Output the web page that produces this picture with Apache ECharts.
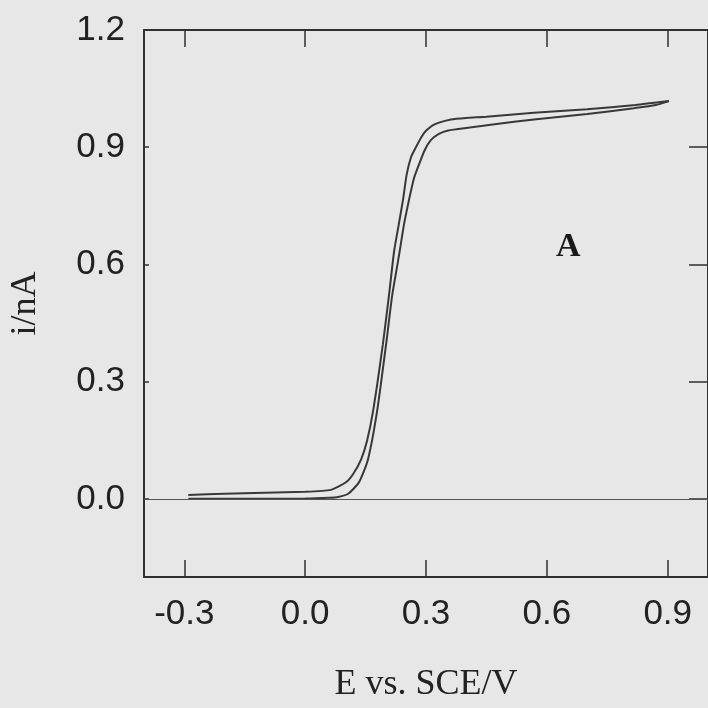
<!DOCTYPE html>
<html>
<head>
<meta charset="utf-8">
<script src="https://cdn.jsdelivr.net/npm/echarts@6/dist/echarts.min.js"></script>
<style>
  html, body { margin: 0; padding: 0; background: #e7e7e7; }
  #main { width: 708px; height: 708px; }
</style>
</head>
<body>
<div id="main"></div>
<script>
// forward scan (lower branch), E in V, i in nA
var forwardE = [-0.29, -0.2, 0.0, 0.06, 0.082, 0.107, 0.134, 0.156, 0.179, 0.201, 0.216, 0.233, 0.245, 0.258, 0.27, 0.283, 0.297, 0.312, 0.332, 0.355, 0.404, 0.48, 0.568, 0.7, 0.816, 0.87, 0.903];
var forwardI = [0.0, 0.0, 0.001, 0.003, 0.005, 0.013, 0.043, 0.101, 0.227, 0.396, 0.52, 0.623, 0.7, 0.766, 0.82, 0.857, 0.893, 0.918, 0.934, 0.943, 0.95, 0.96, 0.971, 0.985, 1.0, 1.008, 1.018];
// reverse scan (upper branch)
var reverseE = [0.903, 0.82, 0.7, 0.568, 0.45, 0.4, 0.362, 0.32, 0.3, 0.288, 0.275, 0.263, 0.252, 0.243, 0.232, 0.221, 0.208, 0.193, 0.169, 0.154, 0.139, 0.12, 0.102, 0.064, 0.0, -0.2, -0.29];
var reverseI = [1.018, 1.008, 0.997, 0.988, 0.978, 0.975, 0.971, 0.958, 0.942, 0.925, 0.9, 0.875, 0.83, 0.766, 0.7, 0.635, 0.52, 0.396, 0.227, 0.15, 0.101, 0.065, 0.043, 0.023, 0.018, 0.013, 0.01];

var xTicks = [-0.3, 0.0, 0.3, 0.6, 0.9];
var yTicks = [0.0, 0.3, 0.6, 0.9, 1.2];

function pairs(xs, ys) {
    var out = [];
    for (var k = 0; k < xs.length; k++) out.push([xs[k], ys[k]]);
    return out;
}

var axisColor = '#303030';
var sans = 'Liberation Sans';
var serif = 'Liberation Serif';

var myChart = echarts.init(document.getElementById('main'));

var option = {
    backgroundColor: '#e7e7e7',
    animation: false,
    grid: { left: 142, top: 30, right: 0, bottom: 122 },
    xAxis: [{
        type: 'value',
        position: 'bottom',
        min: -0.4,
        max: 1.0,
        name: 'E vs. SCE/V',
        nameLocation: 'middle',
        nameGap: 90,
        nameTextStyle: { fontFamily: serif, fontSize: 36, color: '#222' },
        axisLine: { show: true, onZero: false, lineStyle: { color: axisColor, width: 2 } },
        axisTick: { show: true, inside: true, length: 17, customValues: xTicks, lineStyle: { color: axisColor, width: 1.5 } },
        axisLabel: {
            customValues: xTicks, margin: 20, fontFamily: sans, fontSize: 35, color: '#222',
            formatter: function (v) { return v.toFixed(1); }
        },
        splitLine: { show: false }
    }, {
        type: 'value',
        position: 'top',
        min: -0.4,
        max: 1.0,
        axisLine: { show: true, onZero: false, lineStyle: { color: axisColor, width: 2 } },
        axisTick: { show: true, inside: true, length: 17, customValues: xTicks, lineStyle: { color: axisColor, width: 1.5 } },
        axisLabel: { show: false },
        splitLine: { show: false }
    }],
    yAxis: [{
        type: 'value',
        position: 'left',
        min: -0.2,
        max: 1.2,
        name: 'i/nA',
        nameLocation: 'middle',
        nameGap: 100,
        nameTextStyle: { fontFamily: serif, fontSize: 36, color: '#222' },
        axisLine: { show: true, onZero: false, lineStyle: { color: axisColor, width: 2 } },
        axisTick: { show: true, inside: true, length: 5, customValues: yTicks, lineStyle: { color: axisColor, width: 1.5 } },
        axisLabel: {
            customValues: yTicks, margin: 19, fontFamily: sans, fontSize: 35, color: '#222',
            formatter: function (v) { return v.toFixed(1); }
        },
        splitLine: { show: false }
    }, {
        type: 'value',
        position: 'right',
        min: -0.2,
        max: 1.2,
        axisLine: { show: true, onZero: false, lineStyle: { color: axisColor, width: 2 } },
        axisTick: { show: true, inside: true, length: 19, customValues: yTicks, lineStyle: { color: axisColor, width: 1.5 } },
        axisLabel: { show: false },
        splitLine: { show: false }
    }],
    graphic: [{
        type: 'text',
        left: 556,
        top: 230,
        style: { text: 'A', font: 'bold 34px "Liberation Serif"', fill: '#1a1a1a' }
    }],
    series: [{
        name: 'forward',
        type: 'line',
        data: pairs(forwardE, forwardI),
        showSymbol: false,
        smooth: 0.2,
        lineStyle: { color: '#383838', width: 2 },
        markLine: {
            silent: true,
            symbol: 'none',
            label: { show: false },
            lineStyle: { color: '#555', width: 1, type: 'solid' },
            data: [{ yAxis: 0 }]
        }
    }, {
        name: 'reverse',
        type: 'line',
        data: pairs(reverseE, reverseI),
        showSymbol: false,
        smooth: 0.2,
        lineStyle: { color: '#383838', width: 2 }
    }]
};

myChart.setOption(option);
</script>
</body>
</html>
